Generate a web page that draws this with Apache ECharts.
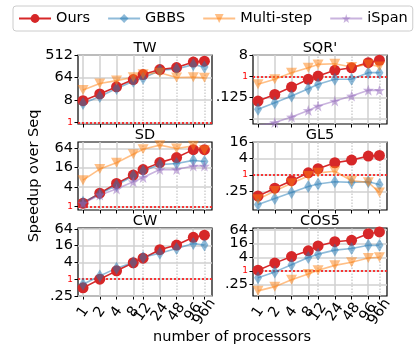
<!DOCTYPE html>
<html>
<head>
<meta charset="utf-8">
<script src="https://cdn.jsdelivr.net/npm/echarts@6/dist/echarts.min.js"></script>
<style>
html, body { margin: 0; padding: 0; background: #fff; }
#chart { width: 417px; height: 348px; }
</style>
</head>
<body>
<div id="chart"></div>
<script>
// processor counts (96h is put a bit to the right of 96)
var procs = [1, 2, 4, 8, 12, 24, 48, 96, 152];
var procLabels = ['1', '2', '4', '8', '12', '24', '48', '96', '96h'];

// speedup over seq
var twOurs  = [7.5, 14, 27, 53, 84, 133, 160, 266, 290];
var twGbbs  = [5.8, 11, 23, 45, 60, 125, 140, 210, 170];
var twMulti = [20, 37, 48, 66, 86, 100, 64, 66, 62];

var sqrOurs  = [0.09, 0.17, 0.35, 0.75, 1.03, 1.8, 2.3, 3.8, 4.8];
var sqrGbbs  = [0.04, 0.077, 0.147, 0.3, 0.46, 0.75, 0.75, 1.43, 1.43];
var sqrMulti = [0.46, 0.75, 1.43, 2.3, 3.2, 3.4, 2.5, 3.2, 2.6];
var sqrIspan = [0.008, 0.011, 0.019, 0.036, 0.055, 0.09, 0.147, 0.26, 0.255];

var sdOurs  = [1.27, 2.6, 5.2, 9.5, 14, 23, 33, 58, 58];
var sdGbbs  = [1.36, 2.45, 4.6, 9, 12.6, 20, 21.6, 27, 25];
var sdMulti = [6.6, 14.5, 22.7, 42, 60, 80, 63, 76, 56];
var sdIspan = [1.27, 2.3, 3.5, 5.9, 8, 14, 14, 18, 18];

var gl5Ours  = [0.17, 0.33, 0.62, 1.2, 1.7, 2.8, 3.5, 4.9, 5.2];
var gl5Gbbs  = [0.084, 0.14, 0.23, 0.38, 0.47, 0.57, 0.54, 0.57, 0.45];
var gl5Multi = [0.13, 0.26, 0.5, 0.92, 1.2, 1.38, 0.62, 0.54, 0.23];

var cwOurs = [0.49, 1.0, 2.0, 3.9, 5.7, 11.5, 16.8, 32, 38];
var cwGbbs = [0.66, 1.3, 2.5, 4, 6.2, 8.6, 12.6, 19, 17];

var cosOurs  = [1.07, 2.2, 4.3, 7.7, 12.7, 19.5, 22.6, 44, 53];
var cosGbbs  = [0.5, 0.9, 1.87, 3.9, 5.5, 8.3, 9.8, 13.5, 13.5];
var cosMulti = [0.13, 0.2, 0.4, 0.72, 1.07, 1.75, 2.4, 3.7, 4];

// y tick values per panel
var twTicks  = [1, 8, 64, 512];
var sqrTicks = [1 / 64, 0.125, 1, 8];
var sdTicks  = [1, 4, 16, 64];
var gl5Ticks = [0.25, 1, 4, 16];
var cwTicks  = [0.25, 1, 4, 16, 64];
var cosTicks = [0.25, 1, 4, 16, 64];

var FONT = 'DejaVu Sans';
var lg = Math.log2;
var STAR = 'path://M10,0 L12.35,6.76 L19.51,6.91 L13.8,11.24 L15.88,18.09 L10,14 L4.12,18.09 L6.2,11.24 L0.49,6.91 L7.65,6.76 Z';
var TRI = 'path://M0,0 L10,0 L5,9 Z';

var styles = {
    'Ours':       { color: '#d62728', opacity: 1,   symbol: 'circle',  size: 11 },
    'GBBS':       { color: '#1f77b4', opacity: 0.5, symbol: 'diamond', size: [8, 13] },
    'Multi-step': { color: '#ff7f0e', opacity: 0.5, symbol: TRI,       size: [11, 10] },
    'iSpan':      { color: '#9467bd', opacity: 0.5, symbol: STAR,      size: 11 }
};

var panels = [
    { title: 'TW',    col: 0, row: 0, range: [0.87, 512],  ticks: twTicks,  lines: { 'Ours': twOurs, 'GBBS': twGbbs, 'Multi-step': twMulti } },
    { title: "SQR'",  col: 1, row: 0, range: [0.0096, 8],  ticks: sqrTicks, lines: { 'Ours': sqrOurs, 'GBBS': sqrGbbs, 'Multi-step': sqrMulti, 'iSpan': sqrIspan } },
    { title: 'SD',    col: 0, row: 1, range: [0.785, 100], ticks: sdTicks,  lines: { 'Ours': sdOurs, 'GBBS': sdGbbs, 'Multi-step': sdMulti, 'iSpan': sdIspan } },
    { title: 'GL5',   col: 1, row: 1, range: [0.053, 16],  ticks: gl5Ticks, lines: { 'Ours': gl5Ours, 'GBBS': gl5Gbbs, 'Multi-step': gl5Multi } },
    { title: 'CW',    col: 0, row: 2, range: [0.25, 69],   ticks: cwTicks,  lines: { 'Ours': cwOurs, 'GBBS': cwGbbs } },
    { title: 'COS5',  col: 1, row: 2, range: [0.077, 79],  ticks: cosTicks, lines: { 'Ours': cosOurs, 'GBBS': cosGbbs, 'Multi-step': cosMulti } }
];

var colLeft = [78, 253], rowTop = [55, 142, 228], gw = 134, gh = [69, 68, 68];
var dottedX = [false, false, false, false, true, false, true, false, true];

function yFmt(v) {
    if (Math.abs(v) < 1e-9) return '{r|1}';
    if (v < -5) return '';
    var n = Math.pow(2, v);
    if (n < 1) return String(n).replace(/^0/, '');
    return String(Math.round(n));
}
function xFmt(v) {
    for (var k = 0; k < procs.length; k++) {
        if (Math.abs(lg(procs[k]) - v) < 1e-6) return procLabels[k];
    }
    return '';
}
function everyOther(arr, start) {
    return arr.filter(function(v, k) { return k % 2 === start; });
}

var grids = [], xAxes = [], yAxes = [], series = [], graphics = [];
var xt = procs.map(lg);

function xAxisOpt(g, p, ticks, labels) {
    return {
        gridIndex: g, type: 'value', min: -0.3, max: 7.7, position: 'bottom',
        axisLine: { show: false, onZero: false },
        splitLine: { show: false },
        axisTick: { show: ticks.length > 0, customValues: ticks, length: 3.5, lineStyle: { color: '#000', width: 1 } },
        axisLabel: {
            show: p.row === 2 && labels.length > 0, customValues: labels, rotate: 55, align: 'center', verticalAlign: 'middle',
            showMinLabel: true, showMaxLabel: true,
            margin: 16, fontFamily: FONT, fontSize: 14.5, color: '#000', formatter: xFmt
        }
    };
}
function yAxisOpt(g, p, ticks, labels) {
    return {
        gridIndex: g, type: 'value', min: lg(p.range[0]), max: lg(p.range[1]), position: 'left',
        axisLine: { show: false, onZero: false },
        splitLine: { show: false },
        axisTick: { show: ticks.length > 0, customValues: ticks, length: 3.5, lineStyle: { color: '#000', width: 1 } },
        axisLabel: {
            customValues: labels, margin: 5, fontFamily: FONT, fontSize: 14.5, color: '#000', formatter: yFmt,
            showMinLabel: true, showMaxLabel: true,
            rich: { r: { color: '#ff0000', fontSize: 9, fontFamily: FONT } }
        }
    };
}

panels.forEach(function(p, i) {
    var left = colLeft[p.col], top = rowTop[p.row], h = gh[p.row];
    var yt = p.ticks.map(lg);
    grids.push({ left: left, top: top, width: gw, height: h, show: true, borderColor: '#000', borderWidth: 1.2, backgroundColor: 'transparent' });

    // labels are split over two axes (every other one) so close labels are not dropped
    var xi = xAxes.length, yi = yAxes.length;
    xAxes.push(xAxisOpt(i, p, xt, everyOther(xt, 0)));
    xAxes.push(xAxisOpt(i, p, [], everyOther(xt, 1)));
    yAxes.push(yAxisOpt(i, p, yt, everyOther(yt, 0)));
    yAxes.push(yAxisOpt(i, p, [], everyOther(yt, 1)));

    // grid lines + red dotted line at speedup 1
    var ml = xt.map(function(v, k) {
        return { xAxis: v, lineStyle: { color: '#d0d0d0', width: 1.5, type: dottedX[k] ? 'dotted' : 'solid' } };
    });
    yt.forEach(function(v) {
        ml.push({ yAxis: v, lineStyle: { color: '#d0d0d0', width: 1.5, type: 'solid' } });
    });
    ml.push({ yAxis: 0, lineStyle: { color: '#ff0000', width: 1.5, type: [2, 2] } });
    series.push({
        type: 'line', xAxisIndex: xi, yAxisIndex: yi, data: [], silent: true,
        markLine: { silent: true, symbol: ['none', 'none'], z: 1, animation: false, label: { show: false }, data: ml }
    });

    Object.keys(p.lines).forEach(function(name) {
        var st = styles[name];
        var vals = p.lines[name];
        series.push({
            name: name, type: 'line', xAxisIndex: xi, yAxisIndex: yi,
            data: vals.map(function(v, k) { return [lg(procs[k]), lg(v)]; }),
            symbol: st.symbol, symbolSize: st.size, showSymbol: true,
            lineStyle: { color: st.color, width: 1.6, opacity: st.opacity },
            itemStyle: { color: st.color, opacity: st.opacity, borderWidth: 0 },
            z: 2, animation: false
        });
    });

    graphics.push({
        type: 'text', x: left + gw / 2, y: top - 7,
        style: { text: p.title, font: '14.5px ' + FONT, fill: '#000', textAlign: 'center', textVerticalAlign: 'middle' }
    });
});

graphics.push({
    type: 'text', x: 34, y: 176, rotation: Math.PI / 2,
    style: { text: 'Speedup over Seq', font: '14.5px ' + FONT, fill: '#000', textAlign: 'center', textVerticalAlign: 'middle' }
});
graphics.push({
    type: 'text', x: 232, y: 337,
    style: { text: 'number of processors', font: '14.5px ' + FONT, fill: '#000', textAlign: 'center', textVerticalAlign: 'middle' }
});

var option = {
    animation: false,
    legend: {
        data: ['Ours', 'GBBS', 'Multi-step', 'iSpan'],
        left: 13, top: 6,
        padding: [5, 5],
        itemGap: 17, itemWidth: 32, itemHeight: 11,
        borderColor: '#cccccc', borderWidth: 1, borderRadius: 3,
        textStyle: { fontFamily: FONT, fontSize: 14.5, color: '#000' }
    },
    grid: grids,
    xAxis: xAxes,
    yAxis: yAxes,
    series: series,
    graphic: graphics
};

var chart = echarts.init(document.getElementById('chart'));
chart.setOption(option);
</script>
</body>
</html>
